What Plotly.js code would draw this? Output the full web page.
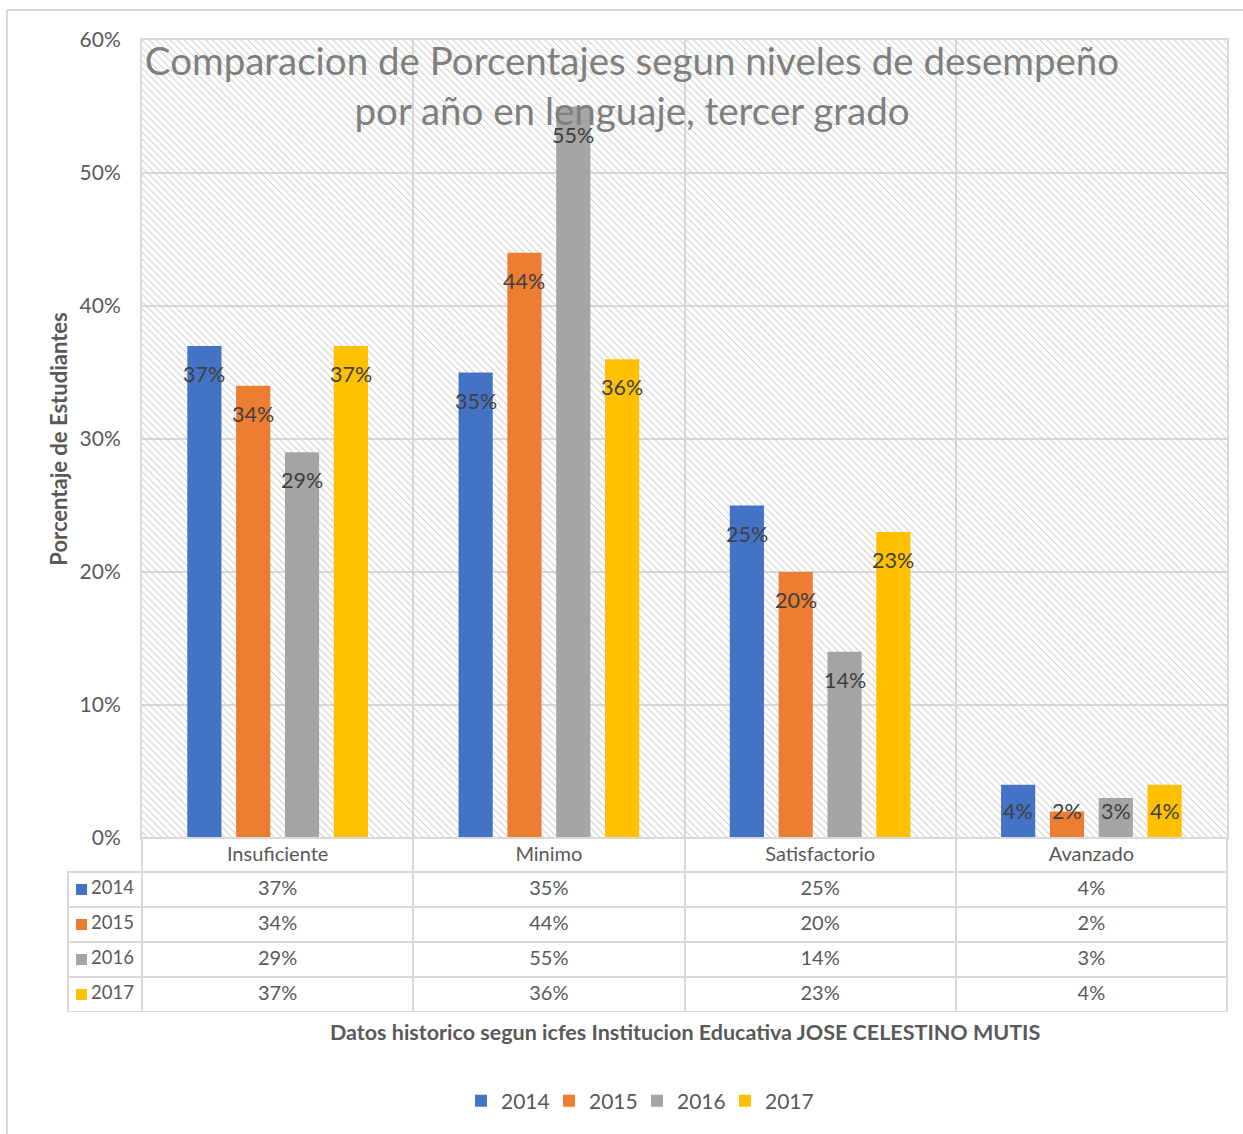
<!DOCTYPE html>
<html>
<head>
<meta charset="utf-8">
<script src="https://cdn.plot.ly/plotly-3.0.1.min.js"></script>
<style>html,body{margin:0;padding:0;background:#fff;}#chart{width:1243px;height:1134px;}</style>
</head>
<body>
<div id="chart"></div>
<script>
// ---- data ----
var categories = ['Insuficiente', 'Minimo', 'Satisfactorio', 'Avanzado'];
var years = ['2014', '2015', '2016', '2017'];
var values2014 = [37, 35, 25, 4];
var values2015 = [34, 44, 20, 2];
var values2016 = [29, 55, 14, 3];
var values2017 = [37, 36, 23, 4];
var yTicks = [0, 10, 20, 30, 40, 50, 60];
var colors = ['#4472C4', '#ED7D31', '#A5A5A5', '#FFC000'];

var series = [values2014, values2015, values2016, values2017];

// ---- layout constants ----
var W = 1243, H = 1134;
var M = {l: 68, r: 16, t: 40, b: 122};
var paperW = W - M.l - M.r, paperH = H - M.t - M.b;
var plotLeftPx = 142, plotBottomPx = 838;
var headerH = 34, rowH = 35;
var xDom0 = (plotLeftPx - M.l) / paperW;
var yDom0 = (H - M.b - plotBottomPx) / paperH;
var yMax = 0.6;
var bargap = 0.28, bargroupgap = 0.30;
var plotW = paperW * (1 - xDom0), plotH = paperH * (1 - yDom0);
var slotPitch = plotW / categories.length * (1 - bargap) / years.length;
var pxPerUnit = plotH / yMax;

var txt = '#595959';
var font = 'Lato, "Open Sans", sans-serif';
var grid = '#d9d9d9';

function px2x(p) { return (p - M.l) / paperW; }
function py2y(p) { return (H - M.b - p) / paperH; }

var traces = [];
// hatched plot background
traces.push({
  type: 'bar', x: [0.5], y: [yMax], width: [1], xaxis: 'x', yaxis: 'y',
  marker: {color: 'rgba(0,0,0,0)', line: {width: 0},
    pattern: {shape: '\\', fgcolor: '#c8c8c8', bgcolor: 'rgba(0,0,0,0)', size: 5, solidity: 0.18}},
  hoverinfo: 'skip', showlegend: false
});

var annotations = [];
series.forEach(function (vals, i) {
  traces.push({
    type: 'bar', name: years[i], x: categories, y: vals.map(function (v) { return v / 100; }),
    xaxis: 'x2', yaxis: 'y', marker: {color: colors[i], line: {width: 0}},
    hovertemplate: '%{x}: %{y:.0%}<extra>' + years[i] + '</extra>'
  });
  vals.forEach(function (v, j) {
    var hpx = v / 100 * pxPerUnit;
    annotations.push({
      xref: 'x2', yref: 'y', x: categories[j], y: v / 100,
      text: v + '%', showarrow: false, yanchor: 'middle', xanchor: 'center',
      xshift: (i - (years.length - 1) / 2) * slotPitch,
      yshift: -Math.min(28, hpx - 27),
      font: {family: font, size: 21.5, color: '#404040'}
    });
  });
});

// data table
var cellCols = [years.slice()];
categories.forEach(function (c, j) {
  cellCols.push(series.map(function (vals) { return vals[j] + '%'; }));
});
traces.push({
  type: 'table',
  domain: {x: [0, 1], y: [0, yDom0]},
  columnwidth: [plotLeftPx - M.l].concat(categories.map(function () { return plotW / categories.length; })),
  header: {
    values: [''].concat(categories), height: headerH,
    align: 'center',
    fill: {color: ['rgba(0,0,0,0)'].concat(categories.map(function () { return '#ffffff'; }))},
    line: {color: ['rgba(0,0,0,0)'].concat(categories.map(function () { return grid; })), width: 2},
    font: {family: font, size: 20, color: txt}
  },
  cells: {
    values: cellCols, height: rowH,
    align: ['right', 'center', 'center', 'center', 'center'],
    fill: {color: '#ffffff'},
    line: {color: grid, width: 2},
    font: {family: font, size: [18.5, 20, 20, 20, 20], color: txt}
  }
});

annotations.push({
  xref: 'paper', yref: 'paper',
  x: px2x(685), y: py2y(1032),
  text: 'Datos historico segun icfes Institucion Educativa JOSE CELESTINO MUTIS',
  showarrow: false, xanchor: 'center', yanchor: 'middle',
  font: {family: font, size: 21.5, color: txt, weight: 'bold'}
});

var shapes = [
  {type: 'line', xref: 'paper', yref: 'paper', x0: px2x(7), x1: px2x(W), y0: py2y(10), y1: py2y(10),
    line: {color: grid, width: 2}},
  {type: 'line', xref: 'paper', yref: 'paper', x0: px2x(7), x1: px2x(7), y0: py2y(10), y1: py2y(H),
    line: {color: grid, width: 2}}
];
// legend keys inside the data table rows
years.forEach(function (y, i) {
  var cy = plotBottomPx + headerH + rowH * (i + 0.5);
  shapes.push({type: 'rect', xref: 'paper', yref: 'paper',
    x0: px2x(76), x1: px2x(87), y0: py2y(cy + 5.5), y1: py2y(cy - 5.5),
    fillcolor: colors[i], line: {width: 0}});
});

var layout = {
  width: W, height: H,
  margin: M,
  paper_bgcolor: '#ffffff', plot_bgcolor: '#ffffff',
  font: {family: font, color: txt},
  barmode: 'group', bargap: bargap, bargroupgap: bargroupgap,
  title: {
    text: 'Comparacion de Porcentajes segun niveles de desempeño<br>por año en lenguaje, tercer grado',
    font: {family: font, size: 38.5, color: '#7f7f7f'},
    xref: 'container', yref: 'container', x: 632 / W, xanchor: 'center',
    y: 1 - 75 / H, yanchor: 'top'
  },
  xaxis: {domain: [xDom0, 1], range: [0, 1], visible: false, fixedrange: true},
  xaxis2: {
    domain: [xDom0, 1], overlaying: 'x', anchor: 'y', type: 'category',
    categoryorder: 'array', categoryarray: categories,
    range: [-0.5, categories.length - 0.5], tickson: 'boundaries',
    showgrid: true, gridcolor: grid, gridwidth: 2,
    showticklabels: false, ticks: '',
    showline: true, mirror: true, linecolor: grid, linewidth: 2, zeroline: false
  },
  yaxis: {
    domain: [yDom0, 1], anchor: 'x', range: [0, yMax],
    tickvals: yTicks.map(function (t) { return t / 100; }),
    ticktext: yTicks.map(function (t) { return t + '%'; }),
    ticks: '', ticklabelstandoff: 15,
    tickfont: {family: font, size: 21, color: txt},
    showgrid: true, gridcolor: grid, gridwidth: 2, zeroline: false,
    showline: true, mirror: true, linecolor: grid, linewidth: 2,
    title: {text: 'Porcentaje de Estudiantes', standoff: 6,
      font: {family: font, size: 22, color: txt, weight: 'bold'}}
  },
  showlegend: true,
  legend: {
    orientation: 'h', x: px2x(637), y: py2y(1101), xanchor: 'center', yanchor: 'middle',
    font: {family: font, size: 21, color: txt}, bgcolor: 'rgba(0,0,0,0)',
    entrywidth: 43, entrywidthmode: 'pixels'
  },
  annotations: annotations,
  shapes: shapes
};

Plotly.newPlot('chart', traces, layout, {displayModeBar: false});
</script>
</body>
</html>
